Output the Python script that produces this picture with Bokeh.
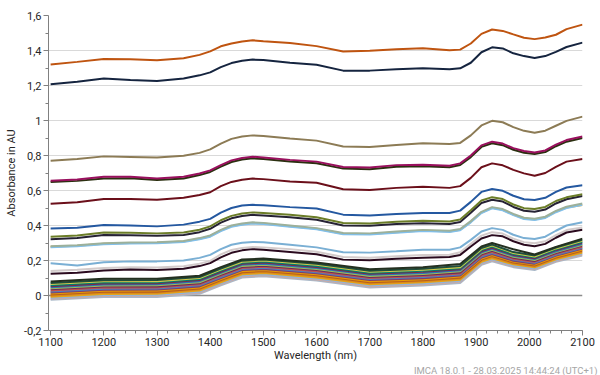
from bokeh.plotting import figure
from bokeh.models import FixedTicker, Span, Label, Range1d, CustomJSTickFormatter
from bokeh.embed import file_html
from bokeh.resources import INLINE

FONT = "Roboto"

# wavelength grid (nm) for the distinct spectra
wl = [1100, 1150, 1200, 1250, 1300, 1350, 1380, 1400, 1420, 1440, 1460, 1480, 1500,
      1550, 1600, 1650, 1700, 1750, 1800, 1850, 1870, 1890, 1910, 1930, 1950, 1970,
      1990, 2010, 2030, 2050, 2070, 2100]

s_orange = [1.320, 1.335, 1.352, 1.350, 1.344, 1.356, 1.375, 1.395, 1.424, 1.440, 1.452, 1.458, 1.453,
            1.443, 1.425, 1.394, 1.398, 1.407, 1.413, 1.402, 1.405, 1.440, 1.495, 1.520, 1.512, 1.492,
            1.473, 1.465, 1.474, 1.490, 1.522, 1.548]
s_navy = [1.207, 1.222, 1.240, 1.232, 1.226, 1.240, 1.258, 1.275, 1.305, 1.328, 1.341, 1.348, 1.346,
          1.330, 1.318, 1.285, 1.285, 1.293, 1.298, 1.293, 1.298, 1.330, 1.390, 1.418, 1.412, 1.384,
          1.368, 1.357, 1.368, 1.392, 1.420, 1.445]
s_tan = [0.770, 0.780, 0.795, 0.792, 0.788, 0.798, 0.815, 0.835, 0.868, 0.895, 0.908, 0.915, 0.912,
         0.897, 0.885, 0.851, 0.849, 0.860, 0.870, 0.866, 0.872, 0.915, 0.972, 0.998, 0.990, 0.962,
         0.941, 0.930, 0.942, 0.970, 0.998, 1.022]
s_darkolive = [0.648, 0.655, 0.669, 0.670, 0.660, 0.669, 0.688, 0.706, 0.736, 0.763, 0.777, 0.784, 0.780,
               0.766, 0.756, 0.725, 0.722, 0.736, 0.738, 0.733, 0.746, 0.791, 0.849, 0.870, 0.859, 0.833,
               0.816, 0.808, 0.820, 0.853, 0.879, 0.900]
s_magenta = [0.656, 0.663, 0.678, 0.679, 0.668, 0.678, 0.697, 0.715, 0.745, 0.772, 0.786, 0.793, 0.789,
             0.775, 0.765, 0.734, 0.732, 0.745, 0.747, 0.742, 0.755, 0.800, 0.858, 0.879, 0.868, 0.842,
             0.826, 0.817, 0.829, 0.862, 0.888, 0.908]
s_maroon = [0.524, 0.533, 0.551, 0.551, 0.547, 0.558, 0.574, 0.590, 0.625, 0.649, 0.662, 0.668, 0.665,
            0.651, 0.644, 0.607, 0.603, 0.615, 0.622, 0.615, 0.625, 0.672, 0.733, 0.755, 0.744, 0.718,
            0.698, 0.684, 0.700, 0.735, 0.765, 0.780]
s_blue = [0.383, 0.387, 0.403, 0.400, 0.395, 0.405, 0.422, 0.438, 0.474, 0.500, 0.514, 0.518, 0.516,
          0.505, 0.497, 0.462, 0.457, 0.466, 0.471, 0.471, 0.485, 0.535, 0.592, 0.609, 0.598, 0.570,
          0.550, 0.546, 0.558, 0.592, 0.617, 0.630]
s_dark = [0.322, 0.329, 0.346, 0.344, 0.341, 0.346, 0.362, 0.381, 0.416, 0.441, 0.454, 0.461, 0.457,
          0.447, 0.433, 0.400, 0.398, 0.408, 0.413, 0.409, 0.420, 0.473, 0.529, 0.547, 0.537, 0.506,
          0.484, 0.478, 0.491, 0.526, 0.550, 0.569]
s_olive = [0.336, 0.343, 0.360, 0.358, 0.355, 0.360, 0.376, 0.395, 0.430, 0.455, 0.468, 0.475, 0.471,
           0.461, 0.447, 0.414, 0.412, 0.422, 0.427, 0.423, 0.434, 0.487, 0.543, 0.562, 0.551, 0.520,
           0.499, 0.494, 0.506, 0.540, 0.561, 0.578]
s_orange2 = [0.279, 0.284, 0.296, 0.300, 0.301, 0.308, 0.324, 0.339, 0.371, 0.396, 0.407, 0.414, 0.411,
             0.396, 0.381, 0.353, 0.351, 0.362, 0.371, 0.366, 0.376, 0.421, 0.474, 0.501, 0.490, 0.462,
             0.440, 0.434, 0.446, 0.479, 0.503, 0.517]
s_skyblue = [0.276, 0.281, 0.293, 0.297, 0.298, 0.305, 0.321, 0.336, 0.368, 0.393, 0.404, 0.411, 0.408,
             0.393, 0.378, 0.350, 0.348, 0.359, 0.368, 0.363, 0.373, 0.418, 0.471, 0.498, 0.487, 0.459,
             0.437, 0.431, 0.443, 0.476, 0.500, 0.519]
s_sage = [0.281, 0.287, 0.299, 0.303, 0.304, 0.312, 0.328, 0.343, 0.375, 0.400, 0.411, 0.418, 0.415,
          0.400, 0.385, 0.357, 0.355, 0.366, 0.375, 0.370, 0.380, 0.425, 0.478, 0.505, 0.494, 0.466,
          0.444, 0.438, 0.450, 0.483, 0.507, 0.526]
s_steel = [0.184, 0.172, 0.190, 0.195, 0.195, 0.200, 0.215, 0.232, 0.265, 0.290, 0.301, 0.306, 0.304,
           0.290, 0.275, 0.247, 0.245, 0.253, 0.262, 0.262, 0.275, 0.318, 0.366, 0.385, 0.375, 0.347,
           0.328, 0.323, 0.336, 0.370, 0.400, 0.418]
s_silver = [0.140, 0.147, 0.157, 0.161, 0.160, 0.167, 0.182, 0.198, 0.235, 0.260, 0.272, 0.277, 0.275,
            0.265, 0.250, 0.220, 0.216, 0.224, 0.232, 0.233, 0.247, 0.295, 0.342, 0.362, 0.354, 0.325,
            0.305, 0.298, 0.310, 0.345, 0.374, 0.388]
s_plum = [0.124, 0.130, 0.143, 0.148, 0.146, 0.153, 0.168, 0.185, 0.218, 0.244, 0.258, 0.265, 0.262,
          0.249, 0.236, 0.205, 0.202, 0.210, 0.216, 0.220, 0.232, 0.280, 0.326, 0.345, 0.338, 0.310,
          0.290, 0.282, 0.295, 0.330, 0.360, 0.376]

main_series = [s_orange, s_navy, s_tan, s_darkolive, s_magenta, s_maroon, s_blue, s_dark, s_olive,
               s_orange2, s_skyblue, s_sage, s_steel, s_silver, s_plum]
main_colors = ["#bf5410", "#15243f", "#8c7b55", "#2b3010", "#99105e", "#6b0f1a", "#2458a0", "#262234",
               "#6b7d28", "#e8a020", "#80c0ee", "#9cb09a", "#7aafd4", "#d3cbcb", "#2a0a1e"]

# wavelength grid (nm) for the dense bundle of low-absorbance spectra
wl_b = [1100, 1200, 1300, 1380, 1420, 1460, 1500, 1600, 1700, 1800, 1870, 1910, 1930, 1970, 2010, 2050, 2100]

b00 = [-0.025, -0.009, -0.008, 0.010, 0.058, 0.103, 0.110, 0.085, 0.046, 0.057, 0.072, 0.175, 0.195, 0.162, 0.146, 0.192, 0.228]
b01 = [-0.019, -0.003, -0.002, 0.016, 0.064, 0.109, 0.116, 0.091, 0.052, 0.063, 0.078, 0.181, 0.201, 0.167, 0.151, 0.197, 0.234]
b02 = [-0.013, 0.003, 0.004, 0.022, 0.070, 0.115, 0.122, 0.097, 0.058, 0.069, 0.084, 0.187, 0.207, 0.172, 0.156, 0.202, 0.240]
b03 = [-0.007, 0.009, 0.010, 0.028, 0.076, 0.121, 0.128, 0.103, 0.064, 0.075, 0.090, 0.193, 0.213, 0.178, 0.161, 0.207, 0.245]
b04 = [-0.001, 0.015, 0.016, 0.034, 0.082, 0.127, 0.134, 0.109, 0.070, 0.081, 0.096, 0.199, 0.219, 0.183, 0.166, 0.212, 0.251]
b05 = [0.005, 0.021, 0.022, 0.040, 0.088, 0.133, 0.140, 0.115, 0.076, 0.087, 0.102, 0.205, 0.225, 0.188, 0.171, 0.217, 0.257]
b06 = [0.011, 0.027, 0.028, 0.046, 0.094, 0.139, 0.146, 0.121, 0.082, 0.093, 0.108, 0.211, 0.231, 0.194, 0.177, 0.222, 0.262]
b07 = [0.017, 0.033, 0.034, 0.052, 0.100, 0.145, 0.152, 0.127, 0.088, 0.099, 0.114, 0.217, 0.237, 0.199, 0.182, 0.228, 0.268]
b08 = [0.023, 0.039, 0.040, 0.058, 0.106, 0.151, 0.158, 0.133, 0.094, 0.105, 0.120, 0.223, 0.243, 0.205, 0.187, 0.233, 0.273]
b09 = [0.029, 0.045, 0.046, 0.064, 0.112, 0.157, 0.164, 0.139, 0.100, 0.111, 0.126, 0.229, 0.249, 0.210, 0.192, 0.238, 0.279]
b10 = [0.035, 0.051, 0.052, 0.070, 0.118, 0.163, 0.170, 0.145, 0.106, 0.117, 0.132, 0.235, 0.255, 0.216, 0.197, 0.243, 0.285]
b11 = [0.041, 0.057, 0.058, 0.076, 0.124, 0.169, 0.176, 0.151, 0.112, 0.123, 0.138, 0.241, 0.261, 0.221, 0.203, 0.248, 0.290]
b12 = [0.047, 0.063, 0.064, 0.082, 0.130, 0.175, 0.182, 0.157, 0.118, 0.129, 0.144, 0.247, 0.267, 0.227, 0.208, 0.253, 0.296]
b13 = [0.053, 0.069, 0.070, 0.088, 0.136, 0.181, 0.188, 0.163, 0.124, 0.135, 0.150, 0.253, 0.273, 0.232, 0.213, 0.259, 0.302]
b14 = [0.059, 0.075, 0.076, 0.094, 0.142, 0.187, 0.194, 0.169, 0.130, 0.141, 0.156, 0.259, 0.279, 0.237, 0.218, 0.264, 0.307]
b15 = [0.065, 0.081, 0.082, 0.100, 0.148, 0.193, 0.200, 0.175, 0.136, 0.147, 0.162, 0.265, 0.285, 0.243, 0.223, 0.269, 0.313]
b16 = [0.071, 0.087, 0.088, 0.106, 0.154, 0.199, 0.206, 0.181, 0.142, 0.153, 0.168, 0.271, 0.291, 0.248, 0.229, 0.274, 0.319]
b17 = [0.080, 0.096, 0.096, 0.113, 0.162, 0.206, 0.211, 0.188, 0.150, 0.161, 0.180, 0.280, 0.300, 0.264, 0.234, 0.278, 0.325]

bundle_series = [b00, b01, b02, b03, b04, b05, b06, b07, b08, b09, b10, b11, b12, b13, b14, b15, b16, b17]
bundle_colors = ["#a9b8c8", "#c9a9a6", "#8fb4dc", "#e8a317", "#d98c1a", "#b85c1e", "#e69b00", "#7b3f70",
                 "#4f81bd", "#c0504d", "#6a2c5a", "#9bbb59", "#2e75b6", "#7a2848", "#00806e", "#d4c84a",
                 "#1f4e3d", "#243020"]

y_ticks = [-0.2, 0, 0.2, 0.4, 0.6, 0.8, 1.0, 1.2, 1.4, 1.6]
y_minor = [-0.1, 0.1, 0.3, 0.5, 0.7, 0.9, 1.1, 1.3, 1.5]
grid_ticks = [0.2, 0.4, 0.6, 0.8, 1.0, 1.2, 1.4]
x_ticks = [1100, 1200, 1300, 1400, 1500, 1600, 1700, 1800, 1900, 2000, 2100]
x_minor = [v for v in range(1100, 2101, 20)]

p = figure(width=600, height=375, output_backend="svg", toolbar_location=None,
           x_range=Range1d(1096, 2100), y_range=Range1d(-0.2, 1.6),
           min_border_left=48, min_border_right=18, min_border_top=15, min_border_bottom=44)
p.outline_line_color = None
p.background_fill_color = "white"
p.border_fill_color = "white"

p.xgrid.visible = False
p.ygrid.ticker = FixedTicker(ticks=grid_ticks)
p.ygrid.grid_line_color = "#d9d9d9"
p.ygrid.grid_line_width = 1

p.add_layout(Span(location=0, dimension="width", line_color="#8c8c8c", line_width=1.5, level="underlay"))

for ys, c in zip(bundle_series, bundle_colors):
    p.line(wl_b, ys, line_color=c, line_width=2)
for ys, c in zip(main_series, main_colors):
    p.line(wl, ys, line_color=c, line_width=2)

for ax in (p.xaxis[0], p.yaxis[0]):
    ax.axis_line_color = "#808080"
    ax.major_tick_line_color = "#808080"
    ax.minor_tick_line_color = "#808080"
    ax.major_tick_out = 5
    ax.major_tick_in = 0
    ax.minor_tick_out = 3
    ax.minor_tick_in = 0
    ax.major_label_text_font = FONT
    ax.major_label_text_font_size = "11px"
    ax.major_label_text_color = "#262626"
    ax.axis_label_text_font = FONT
    ax.axis_label_text_font_size = "11px"
    ax.axis_label_text_font_style = "normal"
    ax.axis_label_text_color = "#262626"

p.xaxis.ticker = FixedTicker(ticks=x_ticks, minor_ticks=x_minor)
p.yaxis.ticker = FixedTicker(ticks=y_ticks, minor_ticks=y_minor)
p.yaxis.formatter = CustomJSTickFormatter(code="var s = (Math.round(tick*10)/10).toString(); return s.replace('.', ',');")
p.xaxis.axis_label = "Wavelength (nm)"
p.yaxis.axis_label = "Absorbance in AU"
p.xaxis.major_label_standoff = 2
p.yaxis.major_label_standoff = 2
p.xaxis.axis_label_standoff = 0
p.yaxis.axis_label_standoff = 3

foot = Label(x=549, y=5, x_units="screen", y_units="screen",
             text="IMCA 18.0.1 - 28.03.2025 14:44:24 (UTC+1)", text_align="right",
             text_baseline="middle", text_font=FONT, text_font_size="9.5px",
             text_color="#a6a6a6")
p.add_layout(foot, "below")

open("out.html", "w").write(file_html(p, INLINE))
